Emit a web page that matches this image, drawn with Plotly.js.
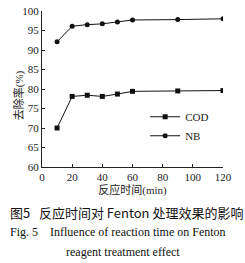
<!DOCTYPE html>
<html>
<head>
<meta charset="utf-8">
<script src="https://cdn.plot.ly/plotly-3.0.1.min.js"></script>
<style>html,body{margin:0;padding:0;background:#fff;}#chart{width:245px;height:263px;}</style>
</head>
<body>
<div id="chart"></div>
<script>
var timeMin = [10, 20, 30, 40, 50, 60, 90, 120];
var codRemoval = [70.0, 78.1, 78.4, 78.1, 78.7, 79.4, 79.5, 79.6];
var nbRemoval = [92.1, 96.1, 96.5, 96.7, 97.2, 97.7, 97.8, 98.0];
var xTicks = [0, 20, 40, 60, 80, 100, 120];
var yTicks = [60, 65, 70, 75, 80, 85, 90, 95, 100];

var serif = "Liberation Serif, Noto Sans CJK SC, serif";
var traces = [
  {x: timeMin, y: codRemoval, name: "COD", mode: "lines+markers",
   line: {color: "#111", width: 1}, marker: {symbol: "square", size: 5, color: "#111"}},
  {x: timeMin, y: nbRemoval, name: "NB", mode: "lines+markers",
   line: {color: "#111", width: 1}, marker: {symbol: "circle", size: 5, color: "#111"}}
];
var layout = {
  width: 245, height: 263,
  margin: {l: 42, r: 22, t: 11, b: 96},
  paper_bgcolor: "#fff", plot_bgcolor: "#fff",
  font: {family: serif, size: 11, color: "#222"},
  showlegend: true,
  legend: {x: 0.57, y: 0.415, xanchor: "left", yanchor: "top", bgcolor: "rgba(0,0,0,0)",
           font: {family: serif, size: 11, color: "#222"}, itemwidth: 30, tracegroupgap: 0},
  xaxis: {range: [0, 120], tickvals: xTicks, ticks: "inside", ticklen: 3, tickcolor: "#222",
          showline: true, linecolor: "#222", linewidth: 1, showgrid: false, zeroline: false,
          tickfont: {size: 11}, title: {text: "反应时间(min)", font: {size: 11}, standoff: 4}},
  yaxis: {range: [60, 100], tickvals: yTicks, ticks: "inside", ticklen: 3, tickcolor: "#222",
          showline: true, linecolor: "#222", linewidth: 1, showgrid: false, zeroline: false,
          tickfont: {size: 11}},
  annotations: [
    {xref: "paper", yref: "paper", x: -0.127, y: 0.46, xanchor: "center", yanchor: "middle",
     textangle: -90, showarrow: false, text: "去除率(%)",
     font: {family: serif, size: 11, color: "#222"}},
    {xref: "paper", yref: "paper", x: -0.19, y: -0.2885, xanchor: "left", yanchor: "middle",
     showarrow: false, text: "图5   反应时间对 Fenton 处理效果的影响",
     font: {family: "Noto Sans CJK SC, sans-serif", size: 13, color: "#111"}},
    {xref: "paper", yref: "paper", x: -0.19, y: -0.4167, xanchor: "left", yanchor: "middle",
     showarrow: false, text: "Fig. 5    Influence of reaction time on Fenton",
     font: {family: serif, size: 12, color: "#111"}},
    {xref: "paper", yref: "paper", x: 0.4475, y: -0.545, xanchor: "center", yanchor: "middle",
     showarrow: false, text: "reagent treatment effect",
     font: {family: serif, size: 12, color: "#111"}}
  ]
};
Plotly.newPlot("chart", traces, layout, {displayModeBar: false, staticPlot: true});
</script>
</body>
</html>
